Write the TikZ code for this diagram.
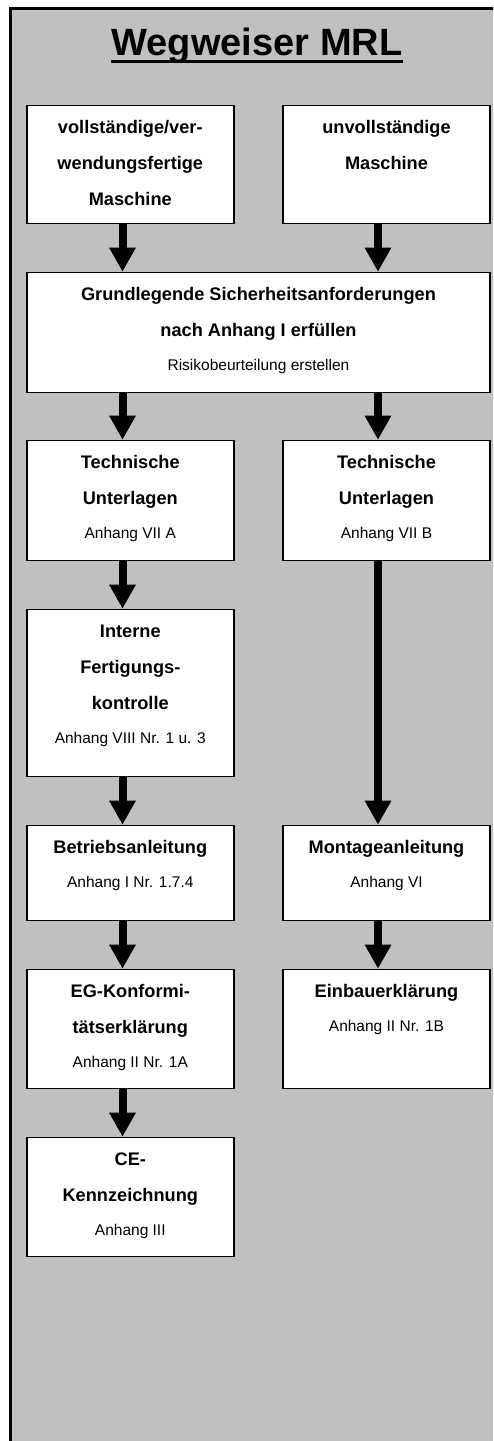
\documentclass[tikz,border=0pt]{standalone}
\usepackage{fontspec}
\setmainfont{Liberation Sans}
\usepackage{xcolor}
\usetikzlibrary{arrows.meta,calc}
\definecolor{panelgray}{RGB}{192,192,192}
\tikzset{
  stepbox/.style={draw,line width=1.6pt,fill=white,inner sep=0pt,
                  minimum width=207pt},
  widebox/.style={stepbox,minimum width=463.5pt},
  txt/.style={align=center,inner sep=0pt,anchor=north,yshift=-15.8pt,
              font=\bfseries\fontsize{18.2}{36}\selectfont},
  fat/.style={-{Triangle[length=24pt,width=25pt]},line width=8pt}
}
\newcommand{\anh}[1]{{\mdseries\fontsize{15.5}{36}\selectfont #1}}

\begin{document}
\begin{tikzpicture}[x=1pt,y=-1pt]
  \useasboundingbox (0,0) rectangle (493,1441);
  \clip (0,0) rectangle (493,1441);
  \draw[line width=2.5pt,fill=panelgray] (10.5,8.5) rectangle (520,1470);

  % Titel
  \node[inner sep=0pt,anchor=base,font=\bfseries\fontsize{38}{40}\selectfont]
    (title) at (257,55) {Wegweiser MRL};
  \draw[line width=3pt] ([yshift=-6pt]title.base west) -- ([yshift=-6pt]title.base east);

  \coordinate (lcol) at (122.5,0);
  \coordinate (rcol) at (378,0);

  \node[stepbox,minimum height=118pt] (voll) at (130.3,164.5) {};
  \node[txt] (voll-t) at (voll.north) {vollständige/ver-\\wendungsfertige\\Maschine};
  \node[stepbox,minimum height=118pt] (unv) at (386.5,164.5) {};
  \node[txt] (unv-t) at (unv.north) {unvollständige\\Maschine};

  \node[widebox,minimum height=120pt] (grund) at (258.5,332.5) {};
  \node[txt] (grund-t) at (grund.north)
    {Grundlegende Sicherheitsanforderungen\\nach Anhang I erfüllen\\[-2pt]\anh{Risikobeurteilung erstellen}};

  \node[stepbox,minimum height=120pt] (tuA) at (130.3,500.5) {};
  \node[txt] (tuA-t) at (tuA.north) {Technische\\Unterlagen\\[-2pt]\anh{Anhang VII A}};
  \node[stepbox,minimum height=120pt] (tuB) at (386.5,500.5) {};
  \node[txt] (tuB-t) at (tuB.north) {Technische\\Unterlagen\\[-2pt]\anh{Anhang VII B}};

  \node[stepbox,minimum height=167pt] (ifk) at (130.3,693) {};
  \node[txt] (ifk-t) at (ifk.north)
    {Interne\\Fertigungs-\\kontrolle\\[-2pt]\anh{Anhang VIII Nr. 1 u. 3}};

  \node[stepbox,minimum height=95pt] (betr) at (130.3,873) {};
  \node[txt] (betr-t) at (betr.north) {Betriebsanleitung\\[-2pt]\anh{Anhang I Nr. 1.7.4}};
  \node[stepbox,minimum height=95pt] (mont) at (386.5,873) {};
  \node[txt] (mont-t) at (mont.north) {Montageanleitung\\[-2pt]\anh{Anhang VI}};

  \node[stepbox,minimum height=119pt] (egk) at (130.3,1029) {};
  \node[txt] (egk-t) at (egk.north)
    {EG-Konformi-\\tätserklärung\\[-2pt]\anh{Anhang II Nr. 1A}};
  \node[stepbox,minimum height=119pt] (einb) at (386.5,1029) {};
  \node[txt] (einb-t) at (einb.north) {Einbauerklärung\\[-2pt]\anh{Anhang II Nr. 1B}};

  \node[stepbox,minimum height=119pt] (ce) at (130.3,1197) {};
  \node[txt] (ce-t) at (ce.north) {CE-\\Kennzeichnung\\[-2pt]\anh{Anhang III}};

  % Pfeile
  \draw[fat] (voll.south -| lcol) -- (grund.north -| lcol);
  \draw[fat] (unv.south -| rcol) -- (grund.north -| rcol);
  \draw[fat] (grund.south -| lcol) -- (tuA.north -| lcol);
  \draw[fat] (grund.south -| rcol) -- (tuB.north -| rcol);
  \draw[fat] (tuA.south -| lcol) -- (ifk.north -| lcol);
  \draw[fat] (tuB.south -| rcol) -- (mont.north -| rcol);
  \draw[fat] (ifk.south -| lcol) -- (betr.north -| lcol);
  \draw[fat] (betr.south -| lcol) -- (egk.north -| lcol);
  \draw[fat] (mont.south -| rcol) -- (einb.north -| rcol);
  \draw[fat] (egk.south -| lcol) -- (ce.north -| lcol);
\end{tikzpicture}
\end{document}
